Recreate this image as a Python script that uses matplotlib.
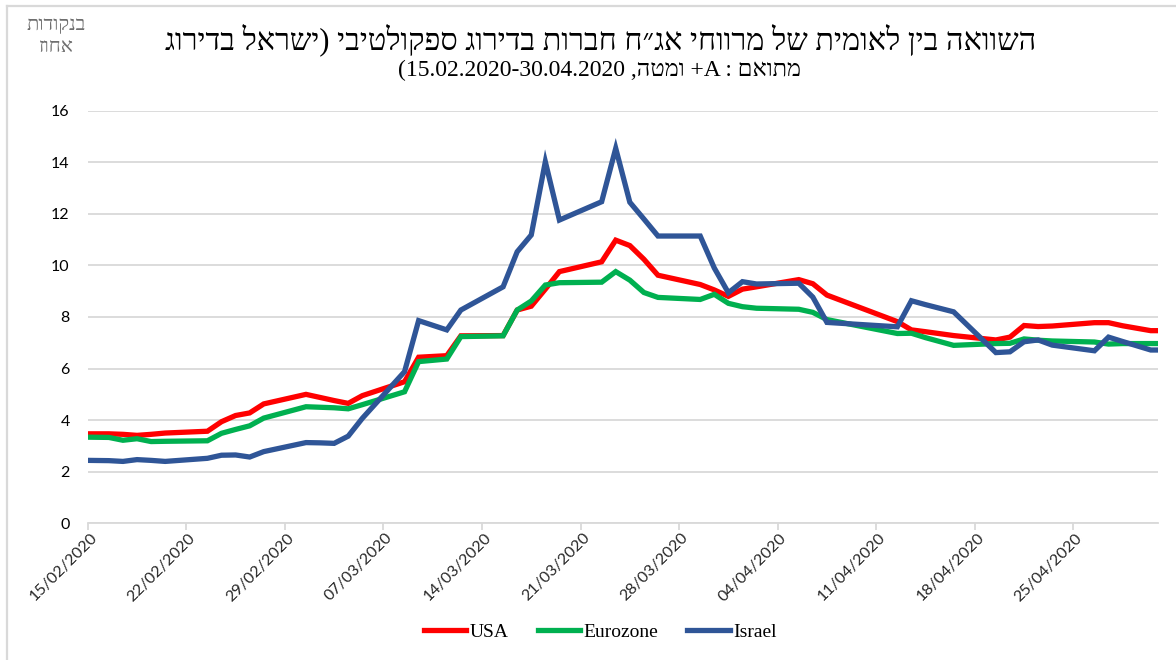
import matplotlib
matplotlib.use("Agg")
import matplotlib.pyplot as plt
import matplotlib.dates as mdates
from matplotlib.lines import Line2D
from datetime import datetime, timedelta

# ---------------- data ----------------
dates = ["13/02/2020", "16/02/2020", "17/02/2020", "18/02/2020", "19/02/2020", "20/02/2020",
         "23/02/2020", "24/02/2020", "25/02/2020", "26/02/2020", "27/02/2020",
         "01/03/2020", "02/03/2020", "03/03/2020", "04/03/2020", "05/03/2020",
         "08/03/2020", "09/03/2020", "10/03/2020", "11/03/2020", "12/03/2020",
         "15/03/2020", "16/03/2020", "17/03/2020", "18/03/2020", "19/03/2020",
         "22/03/2020", "23/03/2020", "24/03/2020", "25/03/2020", "26/03/2020",
         "29/03/2020", "30/03/2020", "31/03/2020", "01/04/2020", "02/04/2020",
         "05/04/2020", "06/04/2020", "07/04/2020",
         "12/04/2020", "13/04/2020", "14/04/2020", "16/04/2020",
         "19/04/2020", "20/04/2020", "21/04/2020", "22/04/2020", "23/04/2020",
         "26/04/2020", "27/04/2020", "28/04/2020", "30/04/2020", "03/05/2020"]

usa = [3.47, 3.47, 3.45, 3.41, 3.45, 3.50,
       3.57, 3.94, 4.18, 4.28, 4.63,
       5.00, 4.88, 4.76, 4.65, 4.95,
       5.49, 6.44, 6.47, 6.50, 7.27,
       7.28, 8.27, 8.42, 9.08, 9.76,
       10.14, 10.98, 10.77, 10.24, 9.62,
       9.26, 9.05, 8.80, 9.08, 9.17,
       9.45, 9.29, 8.85,
       7.82, 7.50, 7.43, 7.28,
       7.11, 7.22, 7.67, 7.63, 7.65,
       7.78, 7.78, 7.66, 7.47, 7.47]

eurozone = [3.35, 3.33, 3.22, 3.28, 3.17, 3.18,
            3.20, 3.49, 3.64, 3.78, 4.08,
            4.52, 4.50, 4.48, 4.44, 4.60,
            5.10, 6.27, 6.32, 6.37, 7.24,
            7.27, 8.27, 8.62, 9.24, 9.33,
            9.35, 9.76, 9.43, 8.95, 8.76,
            8.68, 8.88, 8.53, 8.40, 8.34,
            8.30, 8.18, 7.90,
            7.36, 7.37, 7.20, 6.90,
            6.97, 6.98, 7.15, 7.10, 7.07,
            7.03, 6.95, 6.97, 6.97, 6.97]

israel = [2.45, 2.43, 2.40, 2.47, 2.44, 2.40,
          2.52, 2.64, 2.65, 2.57, 2.78,
          3.13, 3.12, 3.10, 3.38, 4.07,
          5.88, 7.86, 7.68, 7.50, 8.27,
          9.17, 10.53, 11.18, 14.02, 11.76,
          12.47, 14.54, 12.45, 11.80, 11.14,
          11.14, 9.90, 8.94, 9.37, 9.28,
          9.31, 8.77, 7.79,
          7.62, 8.63, 8.48, 8.20,
          6.62, 6.65, 7.04, 7.11, 6.91,
          6.69, 7.22, 7.05, 6.72, 6.72]

series_names = ["USA", "Eurozone", "Israel"]
series_colors = ["#FF0000", "#00B050", "#2F5597"]

axis_start = "15/02/2020"
axis_end = "01/05/2020"
tick_step_days = 7
yticks = [0, 2, 4, 6, 8, 10, 12, 14, 16]

title_line1 = "השוואה בין לאומית של מרווחי אג״ח חברות בדירוג ספקולטיבי (ישראל בדירוג"
title_line2 = "מתואם : A+ ומטה, 15.02.2020-30.04.2020)"
unit_line1 = "בנקודות"
unit_line2 = "אחוז"


# ---------------- helpers ----------------
def visual_rtl(s):
    """Very small bidi helper: reverse RTL text, keep LTR runs (latin/digits) in order."""
    import re
    mirror = {"(": ")", ")": "("}
    tokens = re.findall(r"[A-Za-z0-9.\-+/]+|.", s)
    out = []
    for t in reversed(tokens):
        if re.match(r"[A-Za-z0-9]", t):
            if t.endswith("+") and not t[:-1].replace(".", "").isdigit():
                t = "+" + t[:-1]
            out.append(t)
        else:
            out.append(mirror.get(t, t))
    return "".join(out)


def parse(d):
    return datetime.strptime(d, "%d/%m/%Y")


x = [mdates.date2num(parse(d) + timedelta(hours=12)) for d in dates]

# ---------------- figure ----------------
W, H = 1176, 660
fig = plt.figure(figsize=(W / 100, H / 100), dpi=100)
fig.patch.set_facecolor("white")

# chart frame (top & left visible)
fig.add_artist(Line2D([7 / W, 7 / W], [0, 1 - 6 / H], transform=fig.transFigure,
                      color="#d9d9d9", lw=1.6))
fig.add_artist(Line2D([7 / W, 1], [1 - 6 / H, 1 - 6 / H], transform=fig.transFigure,
                      color="#d9d9d9", lw=1.6))

left, right, top, bottom = 87.75, 1157.8, 110.7, 523.3
ax = fig.add_axes([left / W, 1 - bottom / H, (right - left) / W, (bottom - top) / H])

for vals, name, col in zip([usa, eurozone, israel], series_names, series_colors):
    ax.plot(x, vals, color=col, lw=3.8, label=name, solid_joinstyle="miter", zorder=3)

x0 = mdates.date2num(parse(axis_start))
x1 = mdates.date2num(parse(axis_end))
ax.set_xlim(x0, x1)
ax.set_ylim(0, 16)

# y axis
ax.set_yticks(yticks)
ax.set_yticklabels([str(v) for v in yticks], fontsize=11.5, family=["Lato", "DejaVu Sans"],
                   color="#000000")
ax.tick_params(axis="y", length=0, pad=13)
ax.grid(axis="y", color="#d9d9d9", lw=1.3, zorder=0)

# x axis: tick marks at slot boundaries, labels at slot centres
major = []
labels_pos = []
labels = []
d = parse(axis_start)
while mdates.date2num(d) < x1 - 1:
    major.append(mdates.date2num(d))
    labels_pos.append(mdates.date2num(d + timedelta(hours=12)))
    labels.append(d.strftime("%d/%m/%Y"))
    d += timedelta(days=tick_step_days)
ax.set_xticks(major)
ax.set_xticklabels([""] * len(major))
ax.tick_params(axis="x", which="major", length=5, width=1.3, color="#d9d9d9", direction="out")
ax.set_xticks(labels_pos, minor=True)
ax.set_xticklabels(labels, minor=True, rotation=45, ha="right", va="center",
                   rotation_mode="anchor", fontsize=11.5, family=["Lato", "DejaVu Sans"],
                   color="#262626")
ax.tick_params(axis="x", which="minor", length=0, pad=9)

for s in ["left", "right", "top"]:
    ax.spines[s].set_visible(False)
ax.spines["bottom"].set_color("#d9d9d9")
ax.spines["bottom"].set_linewidth(1.3)
ax.set_facecolor("white")

# titles
heb = ["Liberation Serif", "DejaVu Serif", "DejaVu Sans"]
fig.text(601 / W, 1 - 40 / H, visual_rtl(title_line1), ha="center", va="center",
         fontsize=22, family=heb, color="#000000")
fig.text(600 / W, 1 - 70 / H, visual_rtl(title_line2), ha="center", va="center",
         fontsize=17, family=heb, color="#000000")
fig.text(56 / W, 1 - 25 / H, visual_rtl(unit_line1), ha="center", va="center",
         fontsize=14.5, family=heb, color="#6f6f6f")
fig.text(56 / W, 1 - 47 / H, visual_rtl(unit_line2), ha="center", va="center",
         fontsize=14.5, family=heb, color="#6f6f6f")

# legend
leg = fig.legend(loc="center", bbox_to_anchor=(600 / W, 1 - 632 / H), ncol=3, frameon=False,
                 prop={"family": ["Liberation Serif", "DejaVu Serif"], "size": 14},
                 handlelength=2.2, handletextpad=0.15, columnspacing=1.5)

fig.savefig("out.png", dpi=100, facecolor="white")
